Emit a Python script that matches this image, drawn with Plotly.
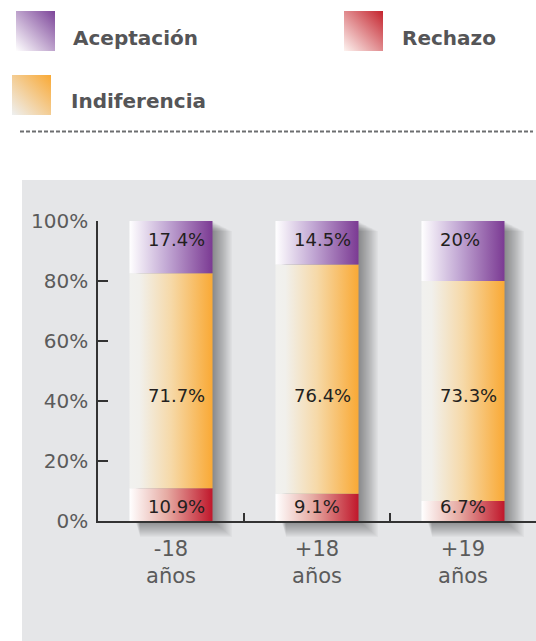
import base64
import plotly.graph_objects as go

# ---- data ----
categories = ["-18<br>años", "+18<br>años", "+19<br>años"]
series_names = ["Rechazo", "Indiferencia", "Aceptación"]
rechazo = [10.9, 9.1, 6.7]
indiferencia = [71.7, 76.4, 73.3]
aceptacion = [17.4, 14.5, 20.0]
y_ticks = [0, 20, 40, 60, 80, 100]
y_ticktext = ["0%", "20%", "40%", "60%", "80%", "100%"]

# ---- style ----
W, H = 536, 641
ML, MR, MT, MB = 98, 0, 221, 120
PW, PH = W - ML - MR, H - MT - MB
XR = (-0.5, 2.5)
PX = PW / (XR[1] - XR[0])      # pixels per x unit
PY = PH / 100.0                 # pixels per y unit
BAR_W = 83 / PX
FONT = "DejaVu Sans, Verdana, sans-serif"

scales = {
    "Rechazo": [[0, "#ffffff"], [0.45, "#e6aba3"], [1, "#c0172b"]],
    "Indiferencia": [[0, "#f1f1ef"], [0.12, "#f1f0ec"], [0.5, "#f6d9a8"], [1, "#f9a935"]],
    "Aceptación": [[0, "#ffffff"], [0.45, "#c2a8d4"], [1, "#7b3a93"]],
}
legend_colors = {
    "Aceptación": ("#ffffff", "#7c4599"),
    "Rechazo": ("#fdf3f0", "#c4232d"),
    "Indiferencia": ("#eef0f1", "#f9a935"),
}
label_y = {"Rechazo": 5, "Indiferencia": 42, "Aceptación": 94}
values = {"Rechazo": rechazo, "Indiferencia": indiferencia, "Aceptación": aceptacion}


def px2paper_x(p):
    return (p - ML) / PW


def px2paper_y(p):
    return (H - MB - p) / PH


fig = go.Figure()
shapes = []
annotations = []
images = []

# grey panel
shapes.append(dict(type="rect", xref="paper", yref="paper", layer="below",
                   x0=px2paper_x(22), x1=px2paper_x(540), y0=px2paper_y(645), y1=px2paper_y(180),
                   fillcolor="#e5e6e8", line=dict(width=0)))

# soft shadows behind bars
N_SH = 16
for i in range(len(categories)):
    left = i - BAR_W / 2
    right = i + BAR_W / 2
    for k in range(N_SH):
        shapes.append(dict(type="rect", xref="x", yref="paper", layer="below",
                           x0=left + (6 + 0.3 * k) / PX, x1=right + (1.5 + 1.2 * k) / PX,
                           y0=-(1 + 1.0 * k) / PH, y1=(100 - (1 + 0.6 * k) / PY) / 100,
                           fillcolor="rgba(0,0,0,0.028)", line=dict(width=0)))

# stacked gradient bars
for i in range(len(categories)):
    base = 0.0
    left = i - BAR_W / 2
    right = i + BAR_W / 2
    for name in series_names:
        v = values[name][i]
        top = base + v
        fig.add_trace(go.Scatter(
            x=[left, right, right, left, left],
            y=[base, base, top, top, base],
            mode="lines", fill="toself",
            line=dict(width=0, color="rgba(0,0,0,0)"),
            fillgradient=dict(type="horizontal", colorscale=scales[name]),
            name=name, showlegend=False, hoverinfo="skip",
        ))
        annotations.append(dict(
            x=left + 16 / PX, y=label_y[name], xref="x", yref="y",
            text=f"{v:g}%", showarrow=False, xanchor="left", yanchor="middle",
            font=dict(family=FONT, size=18, color="#231f20"),
        ))
        base = top

# custom legend
legend_items = [("Aceptación", 16, 11, 71, 38), ("Rechazo", 344, 11, 400, 38),
                ("Indiferencia", 12, 75, 69, 101)]
for name, sx, sy, tx, ty in legend_items:
    c0, c1 = legend_colors[name]
    svg = ("<svg xmlns='http://www.w3.org/2000/svg' width='40' height='40' viewBox='0 0 40 40'>"
           "<defs><linearGradient id='g' x1='0' y1='1' x2='1' y2='0'>"
           f"<stop offset='0' stop-color='{c0}'/><stop offset='1' stop-color='{c1}'/>"
           "</linearGradient></defs><rect width='40' height='40' fill='url(#g)'/></svg>")
    src = "data:image/svg+xml;base64," + base64.b64encode(svg.encode()).decode()
    images.append(dict(source=src, xref="paper", yref="paper",
                       x=px2paper_x(sx), y=px2paper_y(sy),
                       sizex=39 / PW, sizey=40 / PH, sizing="stretch",
                       xanchor="left", yanchor="top", layer="above"))
    annotations.append(dict(
        x=px2paper_x(tx), y=px2paper_y(ty), xref="paper", yref="paper",
        text=f"<b>{name}</b>", showarrow=False, xanchor="left", yanchor="middle",
        font=dict(family=FONT, size=20, color="#555557"),
    ))

# dashed separator
shapes.append(dict(type="line", xref="paper", yref="paper",
                   x0=px2paper_x(20), x1=px2paper_x(533),
                   y0=px2paper_y(131.5), y1=px2paper_y(131.5),
                   line=dict(color="#6d6e70", width=2, dash="4px,2px")))

fig.update_layout(
    width=W, height=H,
    margin=dict(l=ML, r=MR, t=MT, b=MB),
    paper_bgcolor="#ffffff", plot_bgcolor="rgba(0,0,0,0)",
    shapes=shapes, annotations=annotations, images=images,
    showlegend=False,
    xaxis=dict(range=list(XR), showgrid=False, zeroline=False,
               tickmode="array", tickvals=list(range(len(categories))), ticktext=categories,
               ticks="", showline=True, linecolor="#333333", linewidth=1.5,
               tickfont=dict(family=FONT, size=21, color="#5b5b5b"),
               ticklabelstandoff=8,
               minor=dict(tickmode="array", tickvals=[0.5, 1.5], ticks="inside",
                          ticklen=8, tickwidth=1.5, tickcolor="#333333"),
               fixedrange=True),
    yaxis=dict(range=[0, 100], showgrid=False, zeroline=False,
               tickmode="array", tickvals=y_ticks, ticktext=y_ticktext,
               ticks="inside", ticklen=10, tickwidth=1.5, tickcolor="#333333",
               showline=True, linecolor="#333333", linewidth=1.5,
               tickfont=dict(family=FONT, size=20, color="#5b5b5b"),
               ticklabelstandoff=4, fixedrange=True),
)

fig.write_html("out.html", config={"displayModeBar": False},
               post_script="document.body.style.margin='0';document.body.style.overflow='hidden';")
